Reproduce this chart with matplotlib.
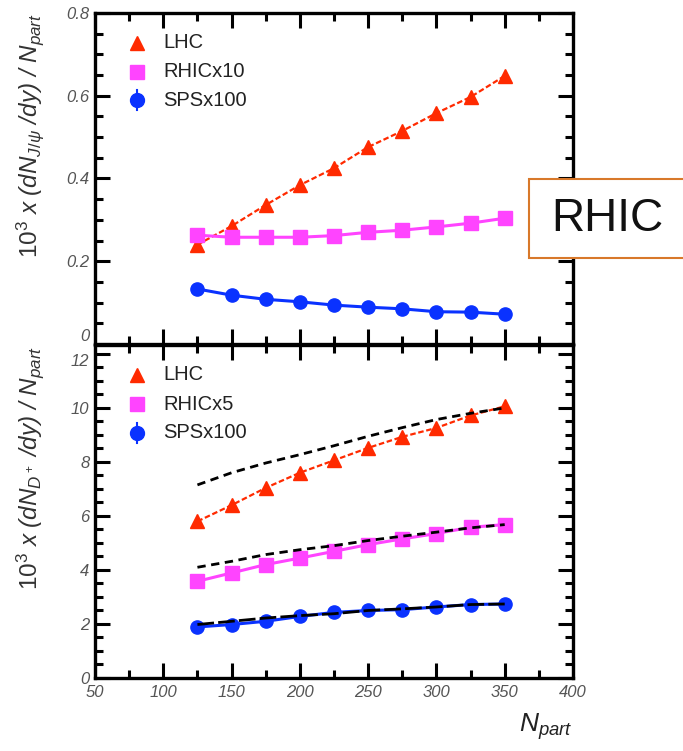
import matplotlib
matplotlib.use("Agg")
import matplotlib.pyplot as plt
from matplotlib.ticker import MultipleLocator
from matplotlib.patches import Rectangle

plt.rcParams['font.family'] = ['Liberation Sans', 'DejaVu Sans']
plt.rcParams['mathtext.fontset'] = 'custom'
plt.rcParams['mathtext.rm'] = 'Liberation Sans'
plt.rcParams['mathtext.it'] = 'Liberation Sans:italic'

npart = [125, 150, 175, 200, 225, 250, 275, 300, 325, 350]

# Top panel: J/psi
jpsi_lhc = [0.240, 0.285, 0.336, 0.384, 0.425, 0.476, 0.515, 0.558, 0.597, 0.648]
jpsi_rhic = [0.263, 0.258, 0.258, 0.258, 0.262, 0.270, 0.275, 0.283, 0.292, 0.304]
jpsi_sps = [0.133, 0.118, 0.108, 0.102, 0.094, 0.089, 0.085, 0.078, 0.077, 0.072]

# Bottom panel: D+
d_lhc = [5.80, 6.40, 7.04, 7.60, 8.06, 8.52, 8.93, 9.26, 9.72, 10.06]
d_rhic = [3.58, 3.89, 4.20, 4.44, 4.69, 4.94, 5.15, 5.35, 5.58, 5.68]
d_sps = [1.89, 1.98, 2.10, 2.28, 2.43, 2.50, 2.53, 2.63, 2.72, 2.74]
# Black dashed reference curves
d_lhc_ref = [7.15, 7.60, 7.96, 8.27, 8.60, 8.95, 9.27, 9.57, 9.80, 10.00]
d_rhic_ref = [4.10, 4.32, 4.57, 4.75, 4.90, 5.09, 5.25, 5.40, 5.56, 5.68]
d_sps_ref = [1.98, 2.10, 2.22, 2.31, 2.38, 2.50, 2.56, 2.63, 2.72, 2.74]

top_labels = ["LHC", "RHICx10", "SPSx100"]
bot_labels = ["LHC", "RHICx5", "SPSx100"]

RED = '#ff2a00'
MAG = '#ff44ff'
BLUE = '#0a32ff'

W, H = 683, 751
fig = plt.figure(figsize=(W / 100, H / 100), dpi=100)

left = 95 / W
width = (573 - 95) / W
ax1 = fig.add_axes([left, 1 - 344 / H, width, (344 - 13) / H])
ax2 = fig.add_axes([left, 1 - 678 / H, width, (678 - 345) / H])


def style(ax, ymaj, ymin):
    ax.set_xlim(50, 400)
    ax.xaxis.set_major_locator(MultipleLocator(50))
    ax.xaxis.set_minor_locator(MultipleLocator(25))
    ax.yaxis.set_major_locator(MultipleLocator(ymaj))
    ax.yaxis.set_minor_locator(MultipleLocator(ymin))
    ax.tick_params(which='both', direction='in', top=True, right=True, width=2.2)
    ax.tick_params(which='major', length=11)
    ax.tick_params(which='minor', length=6)
    ax.tick_params(labelsize=12, labelcolor='#555555')
    ax.tick_params(axis='x', pad=5)
    ax.tick_params(axis='y', pad=4)
    for s in ax.spines.values():
        s.set_linewidth(2.4)


def draw(ax, lhc, rhic, sps, labels):
    ax.plot(npart, lhc, color=RED, lw=1.6, ls=(0, (2.5, 1.2)), marker='^', ms=10,
            mfc=RED, mec=RED, zorder=4)
    ax.plot(npart, rhic, color=MAG, lw=2.2, marker='s', ms=9.5,
            mfc=MAG, mec=MAG, zorder=4)
    err = ax.get_ylim()[1] * 0.018
    ax.errorbar(npart, sps, yerr=[err] * len(sps),
                color=BLUE, lw=2.2, marker='o', ms=9.5, mfc=BLUE, mec=BLUE,
                elinewidth=1.5, capsize=0, zorder=4)
    # legend
    rows = [0.910, 0.822, 0.737]
    mk = [('^', RED), ('s', MAG), ('o', BLUE)]
    for (m, c), y, t in zip(mk, rows, labels):
        ax.plot([0.088], [y], marker=m, ms=10, color=c, transform=ax.transAxes,
                clip_on=False, ls='none')
        if m == 'o':
            ax.plot([0.088, 0.088], [y - 0.03, y + 0.03], color=c, lw=1.5,
                    transform=ax.transAxes)
        ax.text(0.143, y, t, transform=ax.transAxes, fontsize=14.5, color='#222222',
                va='center', ha='left')


ax1.set_ylim(0, 0.8)
style(ax1, 0.2, 0.05)
ax1.yaxis.set_major_formatter(plt.FuncFormatter(lambda v, p: '0' if v == 0 else f'{v:.1f}'))
ax1.set_xticklabels([])
draw(ax1, jpsi_lhc, jpsi_rhic, jpsi_sps, top_labels)

ax2.set_ylim(0, 12.33)
style(ax2, 2, 0.5)
ax2.plot(npart, d_lhc_ref, color='black', lw=2, ls=(0, (3, 2)), zorder=5)
ax2.plot(npart, d_rhic_ref, color='black', lw=2, ls=(0, (3, 2)), zorder=5)
ax2.plot(npart, d_sps_ref, color='black', lw=2, ls=(0, (6, 1.5)), zorder=5)
draw(ax2, d_lhc, d_rhic, d_sps, bot_labels)

fig.canvas.draw()
for ax in (ax1, ax2):
    for lab in ax.get_xticklabels() + ax.get_yticklabels():
        lab.set_fontstyle('italic')
for lab in ax1.get_yticklabels():
    if lab.get_text() == '0':
        lab.set_va('bottom')
for lab in ax2.get_yticklabels():
    if lab.get_text() == '12':
        lab.set_va('top')

# Axis titles
fig.text(30 / W, 1 - 13 / H, r'$10^{3}$ x (d$N_{J/\psi}$ /d$y$) / $N_{part}$',
         rotation=90, ha='center', va='top', fontsize=17.5, color='#333333',
         style='italic')
fig.text(30 / W, 1 - 346 / H, r'$10^{3}$ x (d$N_{D^+}$ /d$y$) / $N_{part}$',
         rotation=90, ha='center', va='top', fontsize=17.5, color='#333333',
         style='italic')
fig.text(573 / W, 1 - 742 / H, r'$N_{part}$', ha='right', va='bottom',
         fontsize=19, color='#222222')

# RHIC box
fig.patches.append(Rectangle((529 / W, 1 - 258 / H), 0.3, 79 / H,
                             transform=fig.transFigure, facecolor='white',
                             edgecolor='#d8782a', lw=1.5, zorder=10))
fig.text(607 / W, 1 - 219 / H, 'RHIC', ha='center', va='center', fontsize=33,
         color='#111111', zorder=11)

fig.savefig('out.png', dpi=100)
